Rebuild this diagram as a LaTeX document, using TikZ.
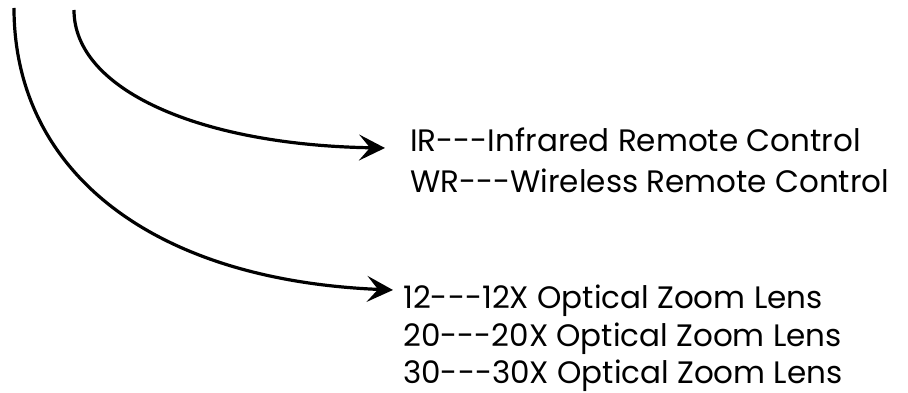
\documentclass[tikz,border=0pt]{standalone}
\usepackage{fontspec}
\setmainfont{Poppins}
\usetikzlibrary{arrows.meta}
\newcommand{\dd}{-{}-{}-}
\begin{document}
\begin{tikzpicture}[x=1pt,y=-1pt,
  conn/.style={line width=3.2pt,-{Stealth[length=26pt,width=26pt,inset=11pt]}},
  lbl/.style={anchor=base west,inner sep=0pt,font=\fontsize{31}{36}\selectfont}]
\useasboundingbox (0,0) rectangle (908,393);
\coordinate (s1) at (14,8);
\coordinate (s2) at (74,10);
\node[lbl] (ir) at (410,152) {IR\dd Infrared Remote Control};
\node[lbl] (wr) at (410,193) {WR\dd Wireless Remote Control};
\node[lbl] (z12) at (403,308) {12\dd 12X Optical Zoom Lens};
\node[lbl] (z20) at (403,346) {20\dd 20X Optical Zoom Lens};
\node[lbl] (z30) at (403,383) {30\dd 30X Optical Zoom Lens};
\coordinate (e1) at (393,290);
\coordinate (e2) at (385,148);
\draw[conn] (s1) .. controls (14,170) and (150,280) .. (e1);
\draw[conn] (s2) .. controls (74,90) and (200,145) .. (e2);
\end{tikzpicture}
\end{document}
